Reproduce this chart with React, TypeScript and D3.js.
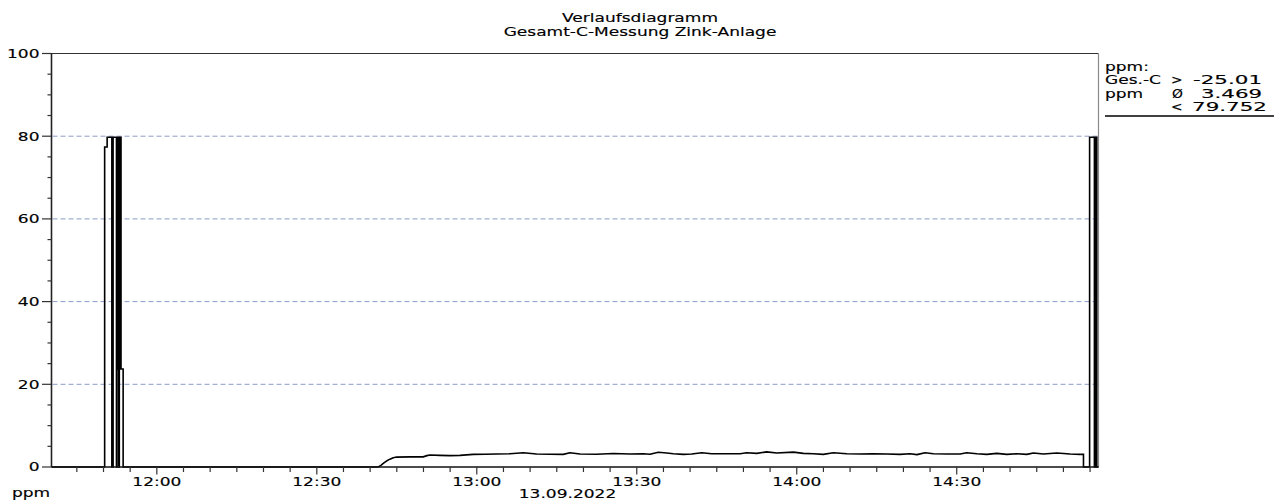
import React from "react";
import * as d3 from "d3";

// ---------- data ----------
const DAY = "2022-09-13";
const domainStart = "11:40:15";
const domainEnd = "14:56:35";

const titleLines = ["Verlaufsdiagramm", "Gesamt-C-Messung Zink-Anlage"];
const yTicks = [0, 20, 40, 60, 80, 100];
const yMinorStep = 5;
const gridValues = [20, 40, 60, 80];
const xMinorMinutes = 5;
const xMajorMinutes = 30;
const unitLabel = "ppm";
const dateLabel = "13.09.2022";

// stepped section (before the slow rise)
const startTimes = [
  "11:40:15", "11:50:13", "11:50:41", "11:51:34", "11:51:48", "11:52:26", "11:52:32",
  "11:52:39", "11:52:46", "11:52:52", "11:52:58", "11:53:05", "11:53:10", "11:53:17",
  "11:53:41", "12:41:31",
];
const startValues = [0, 77.4, 79.75, 0, 79.75, 0, 79.75, 23.7, 79.75, 0, 79.75, 23.7, 79.75, 23.7, 0, 0];

// slowly varying section
const driftTimes = [
  "12:41:31", "12:42:01", "12:42:35", "12:43:08", "12:43:43", "12:44:20", "12:44:58", "12:47:28",
  "12:49:57", "12:50:39", "12:51:13", "12:53:05", "12:54:58", "12:56:50", "12:59:20", "13:01:32",
  "13:03:43", "13:06:13", "13:08:43", "13:11:13", "13:13:43", "13:16:13", "13:17:28", "13:19:21",
  "13:22:29", "13:25:35", "13:28:44", "13:31:13", "13:32:29", "13:34:02", "13:35:37", "13:36:51",
  "13:38:44", "13:40:18", "13:42:11", "13:44:03", "13:46:52", "13:49:22", "13:50:37", "13:52:29",
  "13:54:22", "13:56:14", "13:59:22", "14:01:14", "14:03:07", "14:04:59", "14:06:52", "14:09:23",
  "14:11:52", "14:14:22", "14:16:53", "14:19:22", "14:21:15", "14:22:31", "14:24:04", "14:25:37",
  "14:28:08", "14:30:38", "14:31:53", "14:33:46", "14:35:38", "14:37:31", "14:39:23", "14:41:16",
  "14:43:08", "14:44:23", "14:46:16", "14:48:46", "14:51:16", "14:53:08",
];
const driftValues = [
  0, 0.4, 1.0, 1.5, 1.9, 2.25, 2.4, 2.45,
  2.45, 2.75, 2.9, 2.8, 2.75, 2.8, 3.05, 3.1,
  3.15, 3.2, 3.45, 3.15, 3.1, 3.05, 3.45, 3.15,
  3.1, 3.25, 3.15, 3.2, 3.1, 3.55, 3.4, 3.2,
  3.05, 3.15, 3.45, 3.2, 3.2, 3.2, 3.45, 3.3,
  3.65, 3.4, 3.6, 3.3, 3.2, 3.05, 3.45, 3.2,
  3.15, 3.2, 3.15, 3.05, 3.2, 3.0, 3.45, 3.2,
  3.15, 3.15, 3.45, 3.2, 3.05, 3.3, 3.05, 3.2,
  3.05, 3.4, 3.15, 3.4, 3.15, 3.05,
];

// stepped section at the end
const endTimes = ["14:53:08", "14:53:46", "14:54:55", "14:55:49", "14:55:59", "14:56:16", "14:56:35"];
const endValues = [3.05, 0, 79.75, 0, 79.75, 0, 0];

// statistics box
const statHeader = "ppm:";
const statNames = ["Ges.-C", "ppm", ""];
const statSymbols = [">", "Ø", "<"];
const statValues = ["-25.01", "3.469", "79.752"];

// ---------- layout ----------
const W = 1274;
const H = 502;
const LEFT = 51.5;
const RIGHT = 1098.5;
const TOP = 53.5;
const BOTTOM = 467;
const SX = 1.42; // horizontal stretch of the lettering
const FONT = "'DejaVu Sans', Verdana, sans-serif";

const parse = d3.timeParse("%Y-%m-%d %H:%M:%S");
const toDate = (t: string) => parse(`${DAY} ${t}`) as Date;

function T({ x, y, anchor = "start", children, size = 12, fit, sx = SX }: any) {
  return (
    <text
      transform={`translate(${x},${y}) scale(${sx},1)`}
      textAnchor={anchor}
      fontFamily={FONT}
      fontSize={size}
      fill="#000"
      stroke="#000"
      strokeWidth={0.15}
      {...(fit ? { textLength: fit / sx, lengthAdjust: "spacingAndGlyphs" } : {})}
    >
      {children}
    </text>
  );
}

export default function App() {
  const x = d3.scaleTime().domain([toDate(domainStart), toDate(domainEnd)]).range([LEFT, RIGHT]);
  const y = d3.scaleLinear().domain([0, 100]).range([BOTTOM, TOP]);

  const mk = (ts: string[], vs: number[]) => ts.map((t, i) => [toDate(t), vs[i]] as [Date, number]);
  const stepLine = d3
    .line<[Date, number]>()
    .x((d) => x(d[0]))
    .y((d) => y(d[1]))
    .curve(d3.curveStepAfter);
  const linLine = d3
    .line<[Date, number]>()
    .x((d) => x(d[0]))
    .y((d) => y(d[1]))
    .curve(d3.curveLinear);

  const xTicks = x.ticks(d3.timeMinute.every(xMinorMinutes) as any);
  const yMinor = d3.range(0, 100 + 0.001, yMinorStep);
  const fmt = d3.timeFormat("%H:%M");

  const statRowsY = [84, 97.5, 110.5];
  const symX = [1171, 1172, 1171];
  const numStart = [1193, 1201, 1192];
  const numWidth = [69, 61, 75];

  return (
    <svg
      width={W}
      height={H}
      style={{ position: "absolute", left: 0, top: 0, background: "#fff" }}
    >
      <rect x={0} y={0} width={W} height={H} fill="#fff" />

      {/* title */}
      <T x={640} y={21.5} anchor="middle">{titleLines[0]}</T>
      <T x={640} y={36} anchor="middle">{titleLines[1]}</T>

      {/* grid */}
      {gridValues.map((v) => (
        <line
          key={"g" + v}
          x1={LEFT + 1}
          x2={RIGHT}
          y1={y(v)}
          y2={y(v)}
          stroke="#8d9dcc"
          strokeWidth={1}
          strokeDasharray="5,3"
        />
      ))}

      {/* frame */}
      <line x1={LEFT} x2={RIGHT} y1={TOP} y2={TOP} stroke="#333" strokeWidth={1.2} />
      <line x1={RIGHT} x2={RIGHT} y1={TOP} y2={BOTTOM} stroke="#8a8a8a" strokeWidth={1.2} />

      {/* data */}
      <path d={stepLine(mk(startTimes, startValues)) || ""} fill="none" stroke="#000" strokeWidth={1.6} />
      <path d={linLine(mk(driftTimes, driftValues)) || ""} fill="none" stroke="#000" strokeWidth={1.6} strokeLinejoin="round" />
      <path d={stepLine(mk(endTimes, endValues)) || ""} fill="none" stroke="#000" strokeWidth={1.6} />

      {/* y axis */}
      <line x1={LEFT} x2={LEFT} y1={TOP - 0.5} y2={BOTTOM} stroke="#222" strokeWidth={1.6} />
      {yMinor.map((v) => {
        const major = yTicks.includes(v);
        return (
          <line
            key={"ym" + v}
            x1={major ? 42 : 47.5}
            x2={LEFT}
            y1={y(v)}
            y2={y(v)}
            stroke="#333"
            strokeWidth={1.2}
          />
        );
      })}
      {yTicks.map((v) => (
        <T key={"yl" + v} x={39.5} y={y(v) + 4.3} anchor="end">
          {String(v)}
        </T>
      ))}

      {/* x axis */}
      <line x1={LEFT} x2={RIGHT} y1={BOTTOM} y2={BOTTOM} stroke="#111" strokeWidth={1.4} />
      {xTicks.map((t) => {
        const major = t.getMinutes() % xMajorMinutes === 0;
        return (
          <line
            key={"xt" + t.getTime()}
            x1={x(t)}
            x2={x(t)}
            y1={BOTTOM}
            y2={BOTTOM + (major ? 7.5 : 5)}
            stroke="#333"
            strokeWidth={1.2}
          />
        );
      })}
      {xTicks
        .filter((t) => t.getMinutes() % xMajorMinutes === 0)
        .map((t) => (
          <T key={"xl" + t.getTime()} x={x(t)} y={486} anchor="middle">
            {fmt(t)}
          </T>
        ))}
      <T x={567.5} y={498} anchor="middle">{dateLabel}</T>
      <T x={12} y={497}>{unitLabel}</T>

      {/* statistics box */}
      <T x={1105} y={70.5}>{statHeader}</T>
      {statRowsY.map((ry, i) => (
        <g key={"st" + i}>
          {statNames[i] ? <T x={1105} y={ry}>{statNames[i]}</T> : null}
          <T x={symX[i]} y={ry} sx={1.15}>{statSymbols[i]}</T>
          <T x={numStart[i]} y={ry} fit={numWidth[i]}>{statValues[i]}</T>
        </g>
      ))}
      <line x1={1105} x2={W} y1={116} y2={116} stroke="#000" strokeWidth={1.3} />
    </svg>
  );
}
